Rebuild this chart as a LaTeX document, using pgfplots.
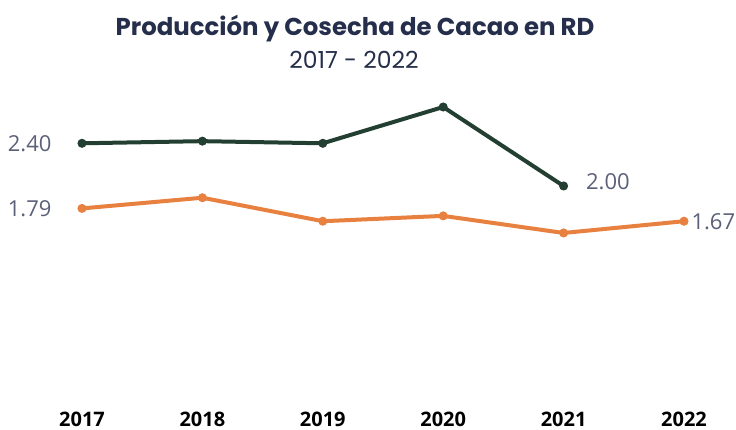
\documentclass[border=0pt]{standalone}
\usepackage{pgfplots}
\pgfplotsset{compat=1.18}
\usepackage{fontspec}
\setmainfont{Open Sans}
\newfontfamily\titlefont{Poppins}
\definecolor{cgreen}{HTML}{223F31}
\definecolor{corange}{HTML}{E8803F}
\definecolor{cnavy}{HTML}{252E4A}
\definecolor{clabel}{HTML}{5B6078}
\begin{document}
\begin{tikzpicture}
\useasboundingbox (0pt,0pt) rectangle (736pt,430pt);
\node[text=cnavy, font=\titlefont\bfseries\fontsize{24.4}{28}\selectfont] at (355pt,401pt) {Producción y Cosecha de Cacao en RD};
\node[text=cnavy, font=\titlefont\fontsize{23.5}{26}\selectfont] at (354pt,370pt) {2017 - 2022};
\begin{axis}[
  at={(82pt,30.5pt)}, anchor=south west,
  scale only axis, width=602pt, height=320.25pt,
  xmin=2017, xmax=2022, ymin=0, ymax=3,
  axis line style={draw=none},
  ytick=\empty,
  xtick={2017,2018,2019,2020,2021,2022},
  xticklabels={2017,2018,2019,2020,2021,2022},
  major tick length=0pt,
  xticklabel style={anchor=center, inner sep=0pt, yshift=-19.5pt, font=\bfseries\fontsize{20}{22}\selectfont, text=black},
  clip=false,
]
\addplot[cgreen, line width=4pt, mark=*, mark size=4pt, mark options={line width=1pt}] coordinates {
(2017,2.40) (2018,2.42) (2019,2.40) (2020,2.74) (2021,2.00)};
\addplot[corange, line width=4pt, mark=*, mark size=4pt, mark options={line width=1pt}] coordinates {
(2017,1.79) (2018,1.89) (2019,1.67) (2020,1.72) (2021,1.56) (2022,1.67)};
\node[anchor=east, text=clabel, font=\fontsize{22}{24}\selectfont, xshift=-27pt] at (axis cs:2017,2.40) {2.40};
\node[anchor=east, text=clabel, font=\fontsize{22}{24}\selectfont, xshift=-27pt] at (axis cs:2017,1.79) {1.79};
\node[anchor=west, text=clabel, font=\fontsize{22}{24}\selectfont, xshift=19pt, yshift=4pt] at (axis cs:2021,2.00) {2.00};
\node[anchor=west, text=clabel, font=\fontsize{22}{24}\selectfont, xshift=4pt] at (axis cs:2022,1.67) {1.67};
\end{axis}
\end{tikzpicture}
\end{document}
